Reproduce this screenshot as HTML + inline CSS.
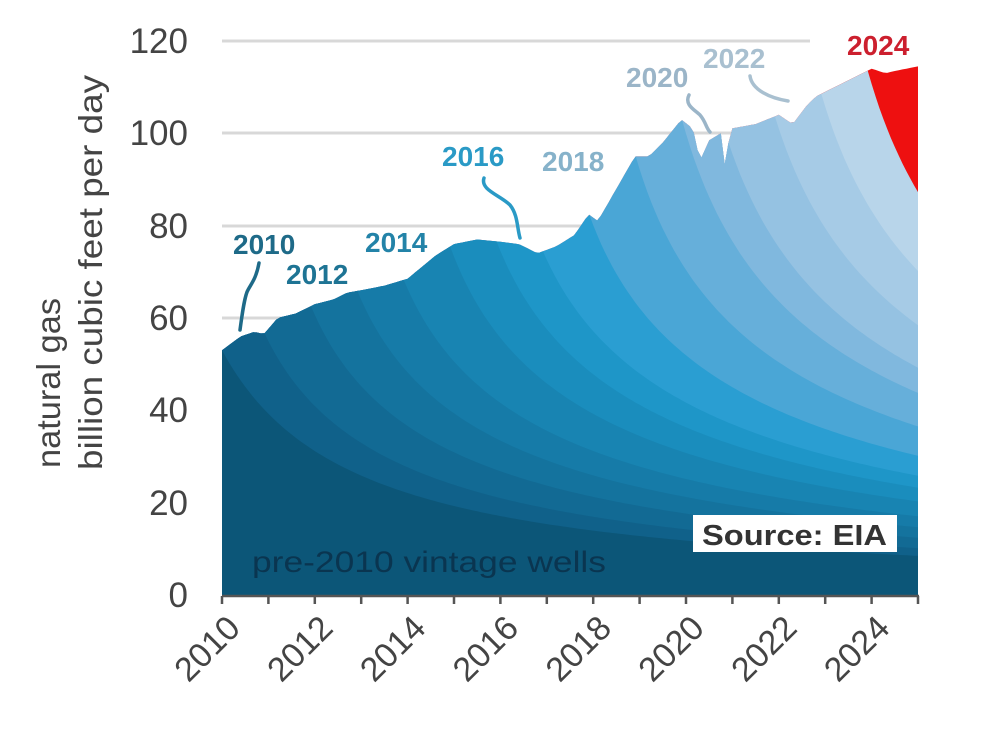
<!DOCTYPE html>
<html><head><meta charset="utf-8"><style>
html,body{margin:0;padding:0;background:#fff;width:1000px;height:750px;overflow:hidden}
svg{display:block}
text{font-family:"Liberation Sans",sans-serif}
</style></head><body>
<svg id="s" width="1000" height="750" viewBox="0 0 1000 750" xmlns="http://www.w3.org/2000/svg">
<g stroke="#d8d8d8" stroke-width="3">
<line x1="222" y1="41" x2="810" y2="41"/>
<line x1="222" y1="133" x2="810" y2="133"/>
<line x1="222" y1="226" x2="810" y2="226"/>
<line x1="222" y1="318" x2="810" y2="318"/>
</g>
<g id="layers"></g>
<g fill="#444" font-size="35" text-anchor="end">
<text x="188" y="53">120</text><text x="188" y="145">100</text><text x="188" y="238">80</text>
<text x="188" y="330">60</text><text x="188" y="422">40</text><text x="188" y="515">20</text><text x="188" y="607">0</text>
</g>
<text transform="translate(60,468) rotate(-90)" fill="#444" font-size="33" textLength="170" lengthAdjust="spacingAndGlyphs">natural gas</text>
<text transform="translate(102,470) rotate(-90)" fill="#444" font-size="33" textLength="395" lengthAdjust="spacingAndGlyphs">billion cubic feet per day</text>
<g id="xt" fill="#444" font-size="34"></g>
<text x="252" y="572" fill="#0a3550" font-size="30" textLength="354" lengthAdjust="spacingAndGlyphs">pre-2010 vintage wells</text>
<rect x="693" y="515" width="204" height="37" fill="#fff"/>
<text x="702" y="545" fill="#333" font-size="29" font-weight="bold" textLength="185" lengthAdjust="spacingAndGlyphs">Source: EIA</text>
<g font-weight="bold" font-size="28">
<text x="233" y="254" fill="#1e6a88">2010</text>
<text x="286" y="284" fill="#1e7494">2012</text>
<text x="365" y="252" fill="#2383a8">2014</text>
<text x="442" y="166" fill="#2a9ac6">2016</text>
<text x="542" y="171" fill="#86b2ca">2018</text>
<text x="626" y="87" fill="#9bb5c8">2020</text>
<text x="703" y="68" fill="#a9c0d0">2022</text>
<text x="847" y="55" fill="#cc1f2e">2024</text>
</g>
<g fill="none" stroke-width="3.5" stroke-linecap="round">
<path d="M259 263 C256 280 250 285 247 292 C244 300 242 315 240 330" stroke="#1e6a88"/>
<path d="M484 178 C480 190 500 195 510 205 C518 215 517 228 520 238" stroke="#2a9ac6"/>
<path d="M689 95 C684 105 695 110 700 115 C706 122 706 128 710 132" stroke="#9bb5c8"/>
<path d="M750 76 C752 90 770 98 788 101" stroke="#a9c0d0"/>
</g>
</svg>
<script>
(function(){
var X=function(t){return 222+(t-2010)*46.4},Y=function(v){return 595-v*4.617};
var env=[[2010,53],[2010.4,56],[2010.7,57],[2010.9,56.5],[2011.2,60],[2011.6,61],[2012,63],[2012.4,64],[2012.7,65.5],[2013,66],[2013.5,67],[2014,68.5],[2014.3,71],[2014.6,73.5],[2015,76],[2015.5,77],[2016,76.5],[2016.4,76],[2016.8,74],[2017.2,75.5],[2017.6,78],[2017.9,82.5],[2018.1,81],[2018.5,88],[2018.9,95],[2019.2,95],[2019.5,98],[2019.9,103],[2020.15,101],[2020.3,94],[2020.5,98.5],[2020.75,100],[2020.85,92],[2020.95,101],[2021.5,102],[2022,104],[2022.3,102],[2022.6,106],[2022.8,108],[2023.2,110],[2023.6,112],[2024,114],[2024.3,113],[2024.5,113.5],[2025,114.5]];
function E(t){for(var i=0;i<env.length-1;i++){if(t<=env[i+1][0]){var a=env[i],b=env[i+1];return a[1]+(b[1]-a[1])*(t-a[0])/(b[0]-a[0]);}}return env[env.length-1][1];}
var M=180,dt=1/12;
function L(y){return 53/(1+0.35*y);}
function q(d){return 1/(1+0.85*d);}
var n=[];
for(var m=0;m<=M;m++){var t=2010+m*dt,s=L(m*dt);for(var i=0;i<m;i++)s+=n[i]*q((m-i)*dt);n[m]=Math.max(0,E(t)-s);}
function C(k,m){var s=L(m*dt);var lim=(k-2010+1)*12;for(var i=0;i<m&&i<lim;i++)s+=n[i]*q((m-i)*dt);if(m<lim)s+= n[m]||0;return s;}
var cols={pre:"#0c5678",2010:"#10618a",2011:"#126a94",2012:"#14739e",2013:"#167ba8",2014:"#1884b2",2015:"#1a8dbd",2016:"#1e96c8",2017:"#2a9ed2",2018:"#4aa6d6",2019:"#66afda",2020:"#80b8de",2021:"#95c2e2",2022:"#a6cbe6",2023:"#b8d5ea",2024:"#ee1010"};
var ns="http://www.w3.org/2000/svg",g=document.getElementById("layers");
var cp=document.createElementNS(ns,"clipPath");cp.setAttribute("id","cl");var cpp=document.createElementNS(ns,"path");
var d="M"+X(2010)+" "+Y(0);for(var m=0;m<=M;m++){var t=2010+m*dt;d+=" L"+X(t).toFixed(1)+" "+Y(E(t)).toFixed(1);}d+=" L"+X(2025)+" "+Y(0)+"Z";
cpp.setAttribute("d",d);cp.appendChild(cpp);document.getElementById("s").appendChild(cp);
g.setAttribute("clip-path","url(#cl)");
var r=document.createElementNS(ns,"rect");r.setAttribute("x",X(2010));r.setAttribute("y",0);r.setAttribute("width",X(2025)-X(2010));r.setAttribute("height",Y(0));r.setAttribute("fill",cols[2024]);g.appendChild(r);
for(var k=2023;k>=2009;k--){var p="M"+X(2010)+" "+Y(0);for(var m=0;m<=M;m++){var t=2010+m*dt;var v=(k==2009)?L(m*dt):C(k,m);p+=" L"+X(t).toFixed(1)+" "+Y(v).toFixed(1);}p+=" L"+X(2025)+" "+Y(0)+"Z";
var e=document.createElementNS(ns,"path");e.setAttribute("d",p);e.setAttribute("fill",k==2009?cols.pre:cols[k]);g.appendChild(e);}
var xt=document.getElementById("xt");
var tk=document.createElementNS(ns,"path");var td="M222 596 L919 596";for(var y=2010;y<=2025;y++){td+=" M"+X(y).toFixed(1)+" 596 L"+X(y).toFixed(1)+" 604";}
tk.setAttribute("d",td);tk.setAttribute("stroke","#555");tk.setAttribute("stroke-width","2.5");tk.setAttribute("fill","none");document.getElementById("s").appendChild(tk);
for(var y=2010;y<=2024;y+=2){var tx=document.createElementNS(ns,"text");tx.setAttribute("text-anchor","end");tx.setAttribute("transform","translate("+(X(y)+20)+",630) rotate(-45)");tx.textContent=y;xt.appendChild(tx);}
})();
</script>
</body></html>
